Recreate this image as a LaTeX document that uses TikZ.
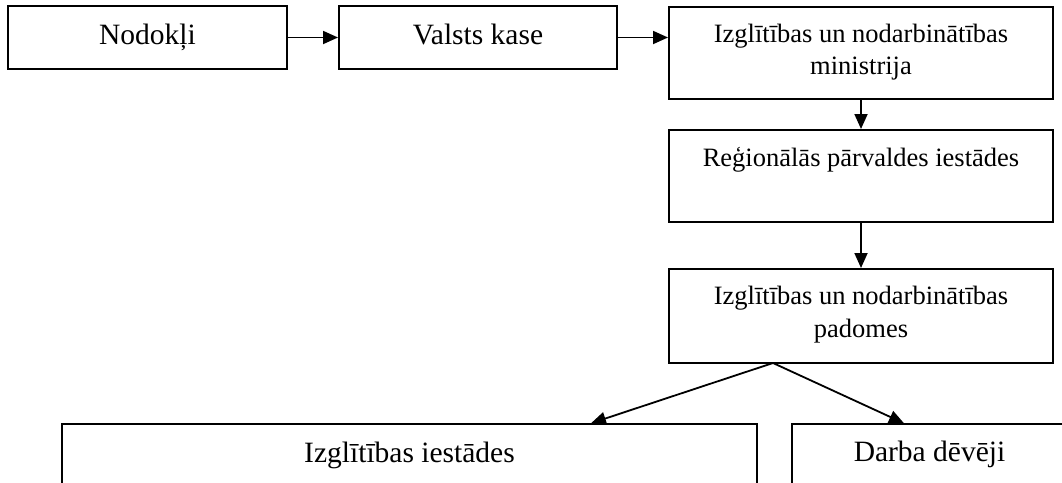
\documentclass[tikz,border=0pt]{standalone}
\usepackage{fontspec}
\setmainfont{Liberation Serif}
\usetikzlibrary{arrows.meta}
\begin{document}
\begin{tikzpicture}[x=1pt,y=-1pt,
  box/.style={draw=black,line width=2pt,inner sep=0pt},
  lowbox/.style={draw=black,line width=1.5pt,inner sep=0pt},
  lbl/.style={anchor=base,align=center,inner sep=0pt},
  big/.style={lbl,font=\fontsize{29.5}{33}\selectfont},
  small/.style={lbl,font=\fontsize{26.5}{32}\selectfont},
  arr/.style={line width=1.8pt,-{Triangle[length=15pt,width=13pt]}}]
\useasboundingbox (0,0) rectangle (1062,482);
% boxes
\node[box,minimum width=279pt,minimum height=63pt] (nod) at (147.5,37.5) {};
\node[box,minimum width=278pt,minimum height=63pt] (kase) at (478,37.5) {};
\node[box,minimum width=384pt,minimum height=92pt] (min) at (861,53) {};
\node[box,minimum width=384pt,minimum height=92pt] (reg) at (861,176) {};
\node[box,minimum width=384pt,minimum height=94pt] (pad) at (861,316) {};
\node[lowbox,minimum width=695pt,minimum height=120pt] (izg) at (409.5,484) {};
\node[lowbox,minimum width=275pt,minimum height=120pt] (darba) at (929.5,484) {};
% texts
\node[big] (t1) at (147.5,44) {Nodokļi};
\node[big] (t2) at (478,44) {Valsts kase};
\node[small] (t3) at (861,42) {Izglītības un nodarbinātības};
\node[small] (t3b) at (861,74) {ministrija};
\node[small] (t4) at (861,166) {Reģionālās pārvaldes iestādes};
\node[small] (t5) at (861,304) {Izglītības un nodarbinātības};
\node[small] (t5b) at (861,337) {padomes};
\node[big] (t6) at (409.5,462) {Izglītības iestādes};
\node[big] (t7) at (929.5,461) {Darba dēvēji};
% connectors
\coordinate (split) at (773,363);
\draw[arr] (nod.east) -- (kase.west);
\draw[arr] (kase.east) -- (kase.east -| min.west);
\draw[arr] (min.south) -- (reg.north);
\draw[arr] (reg.south) -- (pad.north);
\draw[arr] (split) -- (izg.north -| 591,0);
\draw[arr] (split) -- (darba.north -| 904,0);
\end{tikzpicture}
\end{document}
